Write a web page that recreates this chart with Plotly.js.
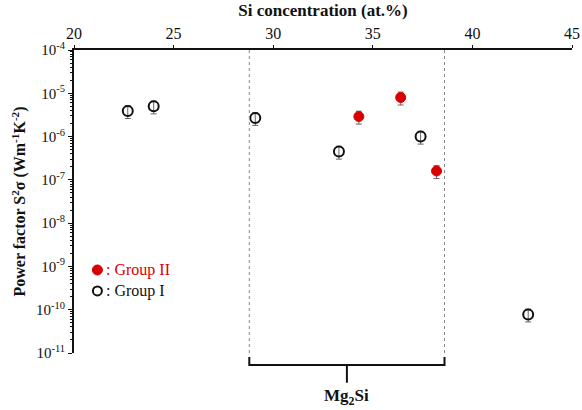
<!DOCTYPE html>
<html>
<head>
<meta charset="utf-8">
<script src="https://cdn.plot.ly/plotly-3.0.1.min.js"></script>
<style>html,body{margin:0;padding:0;background:#fff;}#chart{width:582px;height:410px;}</style>
</head>
<body>
<div id="chart"></div>
<script>
// Data
const groupI_si = [22.7, 24.0, 29.1, 33.3, 37.4, 42.8];
const groupI_pf = [3.9e-6, 5.0e-6, 2.7e-6, 4.5e-7, 1.0e-6, 7.8e-11];
const groupII_si = [34.3, 36.4, 38.2];
const groupII_pf = [2.9e-6, 8.0e-6, 1.6e-7];
const errPercent = 33;
const mg2siBounds = [28.8, 38.6];
const yTickVals = [1e-4, 1e-5, 1e-6, 1e-7, 1e-8, 1e-9, 1e-10, 1e-11];
const yTickText = ['10<sup>-4</sup>','10<sup>-5</sup>','10<sup>-6</sup>','10<sup>-7</sup>','10<sup>-8</sup>','10<sup>-9</sup>','10<sup>-10</sup>','10<sup>-11</sup>'];

const serif = '"Liberation Serif", "Times New Roman", serif';
const red = '#d90000';

// minor tick positions (2..9 x each decade)
const minorVals = [];
for (let e = -11; e < -4; e++) for (let m = 2; m <= 9; m++) minorVals.push(m * Math.pow(10, e));

const traces = [
  {
    x: groupII_si, y: groupII_pf, type: 'scatter', mode: 'markers', name: 'Group II',
    marker: {color: red, size: 10, line: {color: red, width: 1}},
    error_y: {type: 'percent', value: errPercent, color: '#666', thickness: 1, width: 3}
  },
  {
    x: groupI_si, y: groupI_pf, type: 'scatter', mode: 'markers', name: 'Group I',
    marker: {color: '#111', size: 10, symbol: 'circle-open', line: {width: 2}},
    error_y: {type: 'percent', value: errPercent, color: '#666', thickness: 1, width: 3}
  }
];

const bY = -0.04, bEnd = -0.013, bStem = -0.098;
const mid = (mg2siBounds[0] + mg2siBounds[1]) / 2;
const shapes = [
  {type:'line', xref:'x', yref:'paper', x0:mg2siBounds[0], x1:mg2siBounds[0], y0:1, y1:-0.01, line:{color:'#888', width:1, dash:'dot'}},
  {type:'line', xref:'x', yref:'paper', x0:mg2siBounds[1], x1:mg2siBounds[1], y0:1, y1:-0.01, line:{color:'#888', width:1, dash:'dot'}},
  {type:'path', xref:'x', yref:'paper',
   path:`M ${mg2siBounds[0]} ${bEnd} L ${mg2siBounds[0]} ${bY} L ${mg2siBounds[1]} ${bY} L ${mg2siBounds[1]} ${bEnd}`,
   line:{color:'#111', width:2}},
  {type:'line', xref:'x', yref:'paper', x0:mid, x1:mid, y0:bY, y1:bStem, line:{color:'#111', width:2}},
  // legend markers
  {type:'circle', xref:'paper', yref:'paper', xsizemode:'pixel', ysizemode:'pixel', xanchor:0.047, yanchor:0.274,
   x0:-5, x1:5, y0:-5, y1:5, fillcolor:red, line:{color:red, width:1}},
  {type:'circle', xref:'paper', yref:'paper', xsizemode:'pixel', ysizemode:'pixel', xanchor:0.047, yanchor:0.205,
   x0:-4.5, x1:4.5, y0:-4.5, y1:4.5, fillcolor:'rgba(0,0,0,0)', line:{color:'#111', width:2}}
];

const annotations = [
  {xref:'paper', yref:'paper', x:0.06, y:0.274, xanchor:'left', yanchor:'middle', showarrow:false,
   text:': Group II', font:{family:serif, size:16, color:red}},
  {xref:'paper', yref:'paper', x:0.06, y:0.205, xanchor:'left', yanchor:'middle', showarrow:false,
   text:': Group I', font:{family:serif, size:16, color:'#111'}},
  {xref:'x', yref:'paper', x:mid, y:-0.145, xanchor:'center', yanchor:'middle', showarrow:false,
   text:'<b>Mg<sub>2</sub>Si</b>', font:{family:serif, size:17, color:'#111'}}
];

const layout = {
  width: 582, height: 410,
  margin: {l: 74, r: 10, t: 50, b: 57},
  paper_bgcolor: '#fff', plot_bgcolor: '#fff',
  showlegend: false,
  font: {family: serif, size: 14, color: '#111'},
  xaxis: {
    side: 'top', range: [20, 45], dtick: 5, tick0: 20,
    showline: true, linecolor: '#111', linewidth: 2, mirror: false,
    ticks: 'outside', ticklen: 3, tickcolor: '#111', showgrid: false, zeroline: false,
    tickfont: {family: serif, size: 16, color: '#111'},
    title: {text: '<b>Si concentration (at.%)</b>', font: {family: serif, size: 17, color: '#111'}, standoff: 4}
  },
  yaxis: {
    type: 'log', range: [-11, -4],
    tickvals: yTickVals, ticktext: yTickText,
    showline: true, linecolor: '#111', linewidth: 2,
    ticks: 'outside', ticklen: 4, tickcolor: '#111', showgrid: false, zeroline: false,
    minor: {ticks: 'outside', ticklen: 2, tickcolor: '#111', tickvals: minorVals, showgrid: false},
    tickfont: {family: serif, size: 15, color: '#111'},
    title: {text: '<b>Power factor S<sup>2</sup>σ (Wm<sup>-1</sup>K<sup>-2</sup>)</b>', font: {family: serif, size: 16, color: '#111'}, standoff: 6}
  },
  shapes: shapes,
  annotations: annotations
};

Plotly.newPlot('chart', traces, layout, {displayModeBar: false, staticPlot: true});
</script>
</body>
</html>
